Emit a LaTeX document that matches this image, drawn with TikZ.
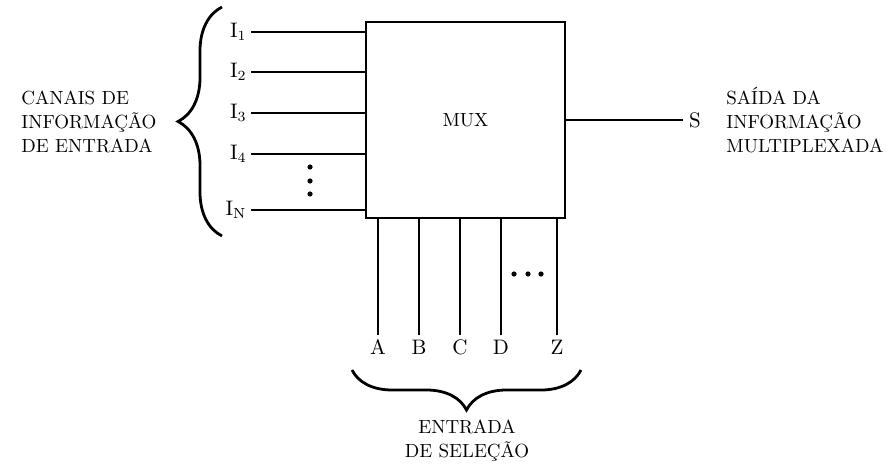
\documentclass[tikz,border=0pt]{standalone}
\usepackage{fontspec}
\usetikzlibrary{decorations.pathreplacing}
\tikzset{
  wire/.style    = { line width=1pt, black },
  muxbox/.style  = { draw, line width=1pt, minimum width=99.5pt, minimum height=98pt, font=\fontsize{9.5}{12}\selectfont },
  pin/.style     = { inner sep=2pt, font=\fontsize{10.5}{12}\selectfont },
  caption/.style = { align=left, inner sep=0pt, font=\fontsize{9.5}{12}\selectfont },
  curly/.style   = { decorate, decoration={brace,amplitude=#1}, line width=1.4pt },
}
\begin{document}
\begin{tikzpicture}[x=0.5pt,y=-0.5pt]
    \useasboundingbox (0,0) rectangle (888,470);

    % Multiplexador
    \node[muxbox] (mux) at (465.5,120) {MUX};

    % canais de entrada
    \node[pin,anchor=east] (i1) at (251,32)  {I$_1$};
    \node[pin,anchor=east] (i2) at (251,72)  {I$_2$};
    \node[pin,anchor=east] (i3) at (251,113) {I$_3$};
    \node[pin,anchor=east] (i4) at (251,154) {I$_4$};
    \node[pin,anchor=east] (iN) at (251,210) {I$_\mathrm{N}$};

    \draw[wire] (i1) -- (i1 -| mux.west);
    \draw[wire] (i2) -- (i2 -| mux.west);
    \draw[wire] (i3) -- (i3 -| mux.west);
    \draw[wire] (i4) -- (i4 -| mux.west);
    \draw[wire] (iN) -- (iN -| mux.west);

    \fill (310,167) circle (1.3pt);
    \fill (310,181) circle (1.3pt);
    \fill (310,194) circle (1.3pt);

    % entradas de selecao
    \node[pin] (a) at (378,347) {A};
    \node[pin] (b) at (419,347) {B};
    \node[pin] (c) at (460,347) {C};
    \node[pin] (d) at (501,347) {D};
    \node[pin] (z) at (557,347) {Z};

    \draw[wire] (a) -- (a |- mux.south);
    \draw[wire] (b) -- (b |- mux.south);
    \draw[wire] (c) -- (c |- mux.south);
    \draw[wire] (d) -- (d |- mux.south);
    \draw[wire] (z) -- (z |- mux.south);

    \fill (514,274) circle (1.3pt);
    \fill (528,274) circle (1.3pt);
    \fill (541,274) circle (1.3pt);

    % saida
    \node[pin,inner sep=3pt] (s) at (695,120) {S};
    \draw[wire] (mux) -- (s);

    % Texte
    \node[caption,anchor=west] (canais) at (21,122) {CANAIS DE\\INFORMAÇÃO\\DE ENTRADA};
    \node[caption,anchor=west] (saida) at (726,120) {SAÍDA DA\\INFORMAÇÃO\\MULTIPLEXADA};
    \node[caption,align=center] (selecao) at (467,441) {ENTRADA\\DE SELEÇÃO};

    % chaves
    \draw[curly=22pt] (222,236) -- (222,7);
    \draw[curly=20pt] (581,370) -- (352,370);

\end{tikzpicture}
\end{document}
